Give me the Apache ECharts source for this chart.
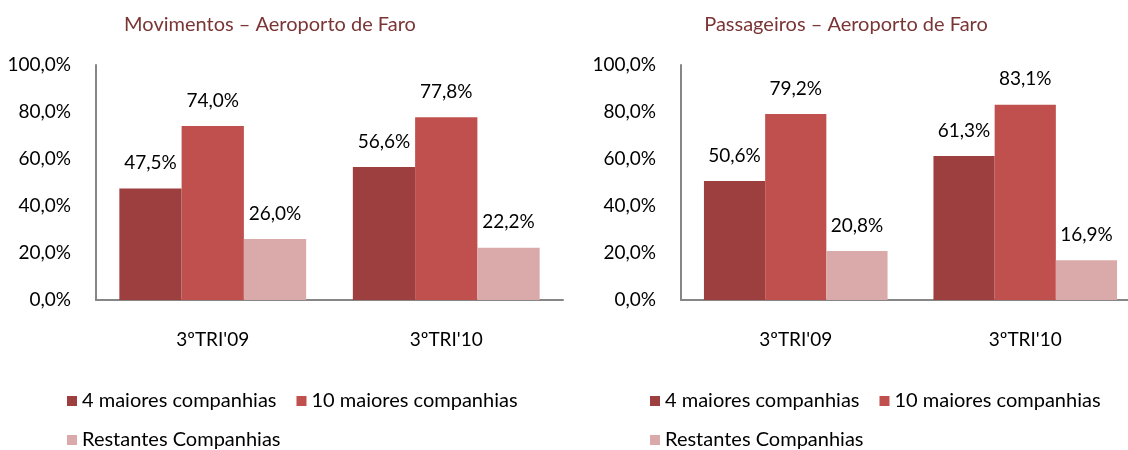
<!DOCTYPE html>
<html>
<head>
<meta charset="utf-8">
<script src="https://cdn.jsdelivr.net/npm/echarts@6/dist/echarts.min.js"></script>
<style>
  html, body { margin: 0; padding: 0; background: #fff; overflow: hidden; }
  #chart { width: 1150px; height: 450px; }
</style>
</head>
<body>
<div id="chart"></div>
<script>
var categories = ["3ºTRI'09", "3ºTRI'10"];
var seriesNames = ["4 maiores companhias", "10 maiores companhias", "Restantes Companhias"];
var yTicks = [0, 20, 40, 60, 80, 100];

// Movimentos
var mov4 = [47.5, 56.6];
var mov10 = [74.0, 77.8];
var movRest = [26.0, 22.2];

// Passageiros
var pas4 = [50.6, 61.3];
var pas10 = [79.2, 83.1];
var pasRest = [20.8, 16.9];

var colors = ["#9E3F3F", "#C0504D", "#DAAAAA"];
var font = "Lato, 'Open Sans', sans-serif";

function pct(v) {
    return v.toFixed(1).replace(".", ",") + "%";
}

function bar(name, data, idx, color) {
    return {
        name: name,
        type: "bar",
        xAxisIndex: idx,
        yAxisIndex: idx,
        data: data,
        barGap: "0%",
        barCategoryGap: "20%",
        itemStyle: { color: color },
        label: {
            show: true,
            position: "top",
            distance: 16,
            color: "#000",
            fontSize: 19,
            fontFamily: font,
            formatter: function (p) { return pct(p.value); }
        }
    };
}

function xAx(idx) {
    return {
        type: "category",
        gridIndex: idx,
        data: categories,
        axisLine: { lineStyle: { color: "#868686", width: 2 } },
        axisTick: { show: false },
        axisLabel: { color: "#000", fontSize: 19, fontFamily: font, margin: 30 }
    };
}

function yAx(idx) {
    return {
        type: "value",
        gridIndex: idx,
        min: yTicks[0],
        max: yTicks[yTicks.length - 1],
        interval: 20,
        axisLine: { show: true, lineStyle: { color: "#868686", width: 2 } },
        axisTick: { show: false },
        splitLine: { show: false },
        axisLabel: {
            color: "#000", fontSize: 19, fontFamily: font, margin: 25,
            formatter: function (v) { return pct(v); }
        }
    };
}

function legend(left, top, names) {
    return {
        left: left,
        top: top,
        padding: 0,
        data: names,
        itemWidth: 10,
        itemHeight: 10,
        itemGap: 20,
        icon: "rect",
        selectedMode: false,
        textStyle: { color: "#000", fontSize: 20, fontFamily: font }
    };
}

var chart = echarts.init(document.getElementById("chart"));

var option = {
    animation: false,
    title: [
        { text: "Movimentos – Aeroporto de Faro", left: 265, top: 10, textAlign: "center",
          textStyle: { color: "#7A3535", fontSize: 20, fontWeight: "normal", fontFamily: font } },
        { text: "Passageiros – Aeroporto de Faro", left: 841, top: 10, textAlign: "center",
          textStyle: { color: "#7A3535", fontSize: 20, fontWeight: "normal", fontFamily: font } }
    ],
    legend: [
        legend(67, 391, [seriesNames[0], seriesNames[1]]),
        legend(67, 430, [seriesNames[2]]),
        legend(650, 391, [seriesNames[0], seriesNames[1]]),
        legend(650, 430, [seriesNames[2]])
    ],
    grid: [
        { left: 96, top: 65, width: 467, height: 235 },
        { left: 681, top: 65, width: 459, height: 235 }
    ],
    xAxis: [xAx(0), xAx(1)],
    yAxis: [yAx(0), yAx(1)],
    series: [
        bar(seriesNames[0], mov4, 0, colors[0]),
        bar(seriesNames[1], mov10, 0, colors[1]),
        bar(seriesNames[2], movRest, 0, colors[2]),
        bar(seriesNames[0], pas4, 1, colors[0]),
        bar(seriesNames[1], pas10, 1, colors[1]),
        bar(seriesNames[2], pasRest, 1, colors[2])
    ]
};

chart.setOption(option);
</script>
</body>
</html>
